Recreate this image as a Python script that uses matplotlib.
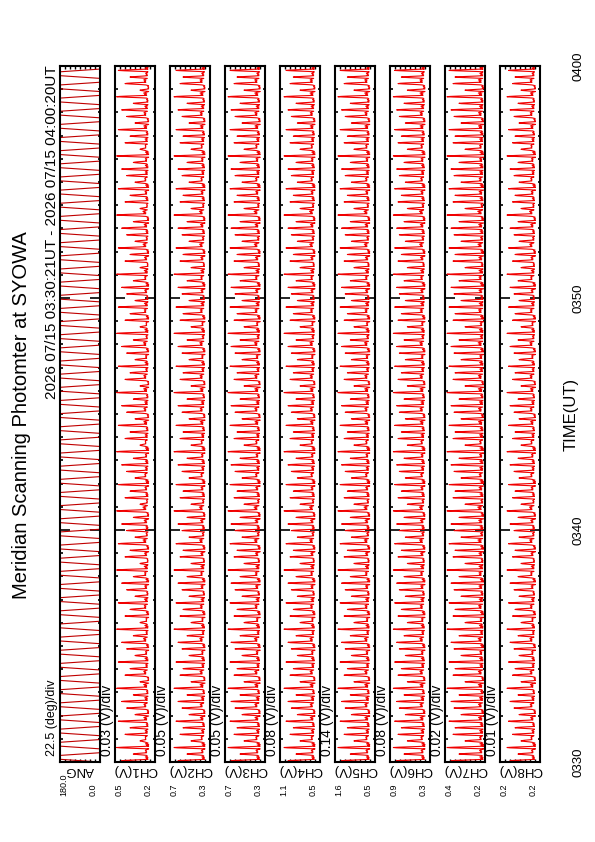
import numpy as np
import matplotlib
matplotlib.use("Agg")
import matplotlib.pyplot as plt
from matplotlib.ticker import FixedLocator, MultipleLocator

plt.rcParams['font.family'] = ['Liberation Sans', 'DejaVu Sans']

# time axis, minutes after 03:30 UT
time_ticks = [0, 10, 20, 30]
time_labels = ['0330', '0340', '0350', '0400']
scan_sec = 7.0     # sweep across the meridian
dwell_sec = 10.0   # pause at the end of each sweep

names = ['ANG', 'CH1(V)', 'CH2(V)', 'CH3(V)', 'CH4(V)', 'CH5(V)', 'CH6(V)', 'CH7(V)', 'CH8(V)']
vmax = [180.0, 0.46, 0.70, 0.70, 1.10, 1.60, 0.90, 0.40, 0.24]
vmin = [0.0, 0.22, 0.30, 0.30, 0.50, 0.50, 0.30, 0.20, 0.16]
max_labels = ['180.0', '0.5', '0.7', '0.7', '1.1', '1.6', '0.9', '0.4', '0.2']
min_labels = ['0.0', '0.2', '0.3', '0.3', '0.5', '0.5', '0.3', '0.2', '0.2']
div_labels = ['22.5 (deg)/div', '0.03 (V)/div', '0.05 (V)/div', '0.05 (V)/div',
              '0.08 (V)/div', '0.14 (V)/div', '0.08 (V)/div', '0.02 (V)/div',
              '0.01 (V)/div']

# one sweep: scan angle and relative intensity along it
scan_angles = [0, 22.5, 45, 67.5, 90, 112.5, 135, 157.5, 180]
scan_shape = [0.0, 0.3, 0.65, 0.9, 1.0, 0.8, 0.5, 0.2, 0.0]
dwell_shape = [0.07, 0.0, 0.1, 0.02]

# background levels and peak levels of successive sweeps (cycles)
ch_base = [
    [0.262, 0.270, 0.258, 0.275, 0.266],
    [0.355, 0.370, 0.350, 0.378, 0.362],
    [0.355, 0.372, 0.348, 0.380, 0.360],
    [0.585, 0.605, 0.575, 0.615, 0.595],
    [0.660, 0.700, 0.645, 0.720, 0.680],
    [0.385, 0.405, 0.375, 0.415, 0.395],
    [0.210, 0.216, 0.207, 0.219, 0.212],
    [0.171, 0.174, 0.169, 0.176, 0.172],
]
ch_peaks = [
    [0.42, 0.35, 0.45, 0.31, 0.40, 0.37, 0.44, 0.34, 0.39],
    [0.62, 0.53, 0.66, 0.49, 0.60, 0.57, 0.64, 0.51, 0.58],
    [0.64, 0.55, 0.67, 0.51, 0.61, 0.58, 0.65, 0.53, 0.60],
    [0.98, 0.86, 1.04, 0.80, 0.95, 0.90, 1.01, 0.84, 0.93],
    [1.42, 1.18, 1.52, 1.08, 1.35, 1.26, 1.46, 1.15, 1.32],
    [0.80, 0.69, 0.85, 0.64, 0.78, 0.73, 0.83, 0.67, 0.76],
    [0.37, 0.33, 0.39, 0.30, 0.36, 0.35, 0.38, 0.32, 0.355],
    [0.220, 0.204, 0.226, 0.198, 0.215, 0.210, 0.223, 0.202, 0.212],
]

# build the sampled series
n_pts = len(scan_angles)
period = scan_sec + dwell_sec
n_sweeps = int(1800 / period) + 1
t_sec, ang = [], []
ch_vals = [[] for _ in ch_base]
for k in range(n_sweeps):
    order = list(range(n_pts)) if k % 2 == 0 else list(range(n_pts - 1, -1, -1))
    t0 = k * period
    for j, idx in enumerate(order):
        t_sec.append(t0 + j * scan_sec / (n_pts - 1))
        ang.append(scan_angles[idx])
        for c in range(len(ch_base)):
            b = ch_base[c][k % len(ch_base[c])]
            pk = ch_peaks[c][k % len(ch_peaks[c])]
            ch_vals[c].append(b + scan_shape[idx] * (pk - b))
    for j, d in enumerate(dwell_shape):
        t_sec.append(t0 + scan_sec + (j + 1) * dwell_sec / (len(dwell_shape) + 1))
        ang.append(scan_angles[order[-1]])
        for c in range(len(ch_base)):
            b = ch_base[c][k % len(ch_base[c])]
            pk = ch_peaks[c][k % len(ch_peaks[c])]
            ch_vals[c].append(b + d * (pk - b))
t_min = np.array(t_sec) / 60.0
keep = t_min <= 30
series = [np.array(ang)[keep]] + [np.array(v)[keep] for v in ch_vals]
t_min = t_min[keep]

W, H = 595, 842
fig = plt.figure(figsize=(W / 100, H / 100), dpi=100)


def fx(x):
    return x / W


def fy(y):
    return 1 - y / H


top, bottom = 66, 762
for i in range(9):
    left = 60 + 55 * i
    ax = fig.add_axes([fx(left), fy(bottom), 40 / W, (bottom - top) / H])
    color = '#c00000' if i == 0 else '#f00000'
    ax.plot(series[i], t_min, color=color, lw=0.8)
    ax.set_xlim(vmax[i], vmin[i])
    ax.set_ylim(0, 30)
    ax.xaxis.set_major_locator(FixedLocator(np.linspace(vmin[i], vmax[i], 9)[1:-1]))
    ax.tick_params(axis='x', which='both', direction='in', top=True, bottom=True,
                   length=2.2, width=1, labelbottom=False)
    ax.yaxis.set_major_locator(FixedLocator([10, 20]))
    ax.yaxis.set_minor_locator(MultipleLocator(1))
    ax.tick_params(axis='y', which='major', direction='in', left=True, right=True,
                   length=7, width=1.2, labelleft=False)
    ax.tick_params(axis='y', which='minor', direction='in', left=True, right=True,
                   length=1.8, width=1.2)
    for s in ax.spines.values():
        s.set_linewidth(1.5)

    # labels under each panel
    fig.text(fx(left + 4), fy(796), max_labels[i], rotation=90, fontsize=6.5,
             ha='center', va='bottom')
    fig.text(fx(left + 33), fy(796), min_labels[i], rotation=90, fontsize=6.5,
             ha='center', va='bottom')
    fig.text(fx(left + 20), fy(770), names[i], rotation=180, fontsize=9.5,
             ha='center', va='center')
    fig.text(fx(left - 8), fy(756), div_labels[i], rotation=90,
             fontsize=9 if i == 0 else 10, ha='center', va='bottom')

# time labels on the right
for t, lab in zip(time_ticks, time_labels):
    y = bottom - t / 30 * (bottom - top)
    fig.text(fx(578), fy(y), lab, rotation=90, fontsize=9.5, ha='center', va='center')
fig.text(fx(571), fy((top + bottom) / 2), 'TIME(UT)', rotation=90, fontsize=12,
         ha='center', va='center')

fig.text(fx(52), fy(65), '2026 07/15 03:30:21UT - 2026 07/15 04:00:20UT',
         rotation=90, fontsize=11, ha='center', va='top')
fig.text(fx(22), fy(415), 'Meridian Scanning Photomter at SYOWA', rotation=90,
         fontsize=14.5, ha='center', va='center')

fig.savefig('out.png', dpi=100)
